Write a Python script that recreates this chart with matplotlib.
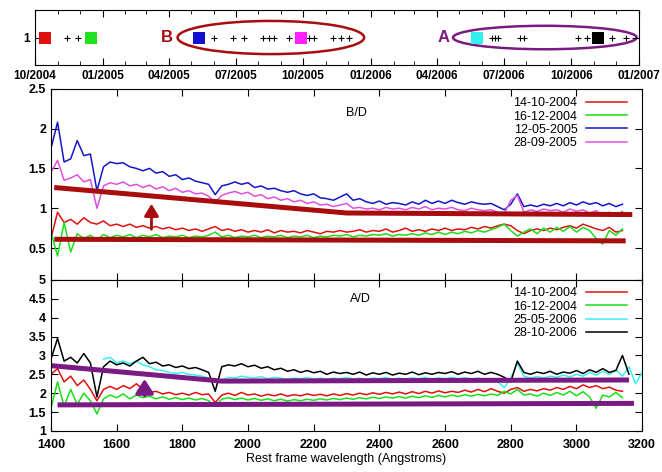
import numpy as np
import matplotlib
matplotlib.use("Agg")
import matplotlib.pyplot as plt
import matplotlib.dates as mdates
import matplotlib.ticker as mtick
from matplotlib.patches import Ellipse

nan = np.nan

# Observation epochs (top strip)
epoch_dates = ["2004-10-14", "2004-12-16", "2005-05-12", "2005-09-28", "2006-05-25", "2006-11-06"]
epoch_colors = ["#e01010", "#20e020", "#1010d0", "#ff20ff", "#30f0f0", "#000000"]
other_dates = [
    "2004-11-13", "2004-11-29",
    "2005-06-01", "2005-06-28", "2005-07-12", "2005-08-07", "2005-08-15", "2005-08-22",
    "2005-09-12", "2005-10-09", "2005-10-16", "2005-11-10", "2005-11-21", "2005-12-03",
    "2006-06-15", "2006-06-19", "2006-06-23", "2006-07-23", "2006-07-28",
    "2006-10-10", "2006-10-22", "2006-11-25", "2006-12-15",
]

# Spectra ratios, sampled every 20 A from 1400 to 3200
wave = np.arange(1400, 3201, 20)

bd_red = [0.62, 0.95, 0.82, 0.86, 0.80, 0.88, 0.82, 0.80, 0.84, 0.78,
          0.80, 0.77, 0.80, 0.76, 0.78, 0.75, 0.77, 0.74, 0.76, 0.73,
          0.75, 0.72, 0.74, 0.71, 0.74, 0.77, 0.72, 0.74, 0.71, 0.73,
          0.70, 0.72, 0.70, 0.73, 0.69, 0.72, 0.70, 0.71, 0.69, 0.72,
          0.70, 0.68, 0.71, 0.70, 0.72, 0.70, 0.71, 0.73, 0.70, 0.72,
          0.71, 0.74, 0.70, 0.72, 0.75, 0.71, 0.73, 0.71, 0.74, 0.72,
          0.75, 0.72, 0.74, 0.73, 0.76, 0.74, 0.77, 0.75, 0.78, 0.80,
          0.78, 0.72, 0.68, 0.72, 0.74, 0.72, 0.75, 0.73, 0.76, 0.78,
          0.75, 0.80, 0.77, 0.74, 0.72, 0.76, 0.70, 0.72, nan, nan, nan]
bd_green = [0.70, 0.40, 0.82, 0.45, 0.68, 0.62, 0.66, 0.60, 0.67, 0.63,
            0.66, 0.64, 0.67, 0.63, 0.66, 0.64, 0.67, 0.63, 0.65, 0.64,
            0.66, 0.63, 0.65, 0.64, 0.66, 0.70, 0.64, 0.66, 0.63, 0.65,
            0.64, 0.66, 0.63, 0.65, 0.64, 0.66, 0.63, 0.65, 0.64, 0.66,
            0.63, 0.65, 0.64, 0.66, 0.65, 0.67, 0.64, 0.66, 0.65, 0.67,
            0.66, 0.68, 0.65, 0.67, 0.66, 0.68, 0.66, 0.69, 0.67, 0.70,
            0.67, 0.70, 0.68, 0.71, 0.69, 0.72, 0.70, 0.73, 0.76, 0.80,
            0.72, 0.65, 0.70, 0.74, 0.68, 0.75, 0.70, 0.76, 0.71, 0.77,
            0.70, 0.76, 0.72, 0.62, 0.55, 0.72, 0.66, 0.74, nan, nan, nan]
bd_blue = [1.75, 2.08, 1.58, 1.62, 1.85, 1.66, 1.68, 1.22, 1.52, 1.58,
           1.56, 1.57, 1.52, 1.50, 1.47, 1.50, 1.44, 1.46, 1.40, 1.42,
           1.36, 1.38, 1.34, 1.32, 1.30, 1.17, 1.28, 1.30, 1.33, 1.30,
           1.32, 1.26, 1.28, 1.24, 1.25, 1.22, 1.20, 1.22, 1.18, 1.16,
           1.18, 1.13, 1.12, 1.10, 1.14, 1.18, 1.10, 1.12, 1.08, 1.06,
           1.09, 1.05, 1.07, 1.06, 1.04, 1.08, 1.05, 1.10, 1.06, 1.09,
           1.06, 1.10, 1.07, 1.05, 1.08, 1.06, 1.05, 1.06, 1.02, 0.98,
           1.05, 1.18, 1.02, 1.04, 1.02, 1.05, 1.03, 1.06, 1.03, 1.07,
           1.04, 1.08, 1.05, 1.07, 1.03, 1.06, 1.02, 1.05, nan, nan, nan]
bd_magenta = [1.45, 1.60, 1.35, 1.38, 1.42, 1.33, 1.36, 1.00, 1.28, 1.32,
              1.30, 1.33, 1.28, 1.30, 1.26, 1.29, 1.24, 1.27, 1.22, 1.25,
              1.20, 1.22, 1.18, 1.19, 1.15, 1.08, 1.16, 1.19, 1.21, 1.18,
              1.20, 1.15, 1.17, 1.12, 1.14, 1.10, 1.12, 1.08, 1.10, 1.06,
              1.08, 1.04, 1.05, 1.02, 1.04, 1.06, 1.00, 1.01, 0.99, 1.00,
              0.98, 1.01, 0.99, 1.00, 0.98, 1.01, 0.99, 1.02, 0.98, 1.00,
              0.99, 1.01, 0.98, 0.97, 1.00, 0.98, 0.97, 0.98, 0.95, 0.93,
              1.10, 1.16, 0.95, 0.98, 0.96, 0.99, 0.97, 0.98, 0.95, 0.99,
              0.96, 0.98, 0.94, 0.97, 0.90, 0.95, 0.92, 0.96, nan, nan, nan]

ad_red = [2.50, 2.65, 2.30, 2.45, 2.20, 2.35, 2.10, 1.80, 2.10, 2.18,
          2.10, 2.20, 2.12, 2.25, 2.10, 2.02, 2.05, 1.98, 2.02, 1.96,
          2.00, 1.95, 2.02, 1.96, 1.98, 1.75, 1.95, 2.00, 1.94, 2.02,
          1.95, 1.98, 1.92, 1.97, 1.93, 1.98, 1.92, 1.96, 1.93, 1.98,
          1.94, 1.97, 1.93, 1.98, 1.94, 1.99, 1.95, 2.00, 1.96, 2.01,
          1.97, 2.02, 1.98, 2.03, 1.98, 2.04, 1.99, 2.05, 2.00, 2.06,
          2.01, 2.05, 2.02, 2.08, 2.03, 2.10, 2.04, 2.12, 2.05, 2.00,
          2.10, 2.15, 2.05, 2.10, 2.06, 2.12, 2.08, 2.15, 2.10, 2.18,
          2.12, 2.22, 2.15, 2.20, 2.12, 2.16, 2.08, 2.05, nan, nan, nan]
ad_green = [1.60, 2.30, 1.65, 2.10, 1.70, 2.00, 1.80, 1.45, 1.85, 1.95,
            1.88, 1.98, 1.85, 1.95, 1.88, 1.92, 1.85, 1.90, 1.84, 1.88,
            1.83, 1.87, 1.82, 1.86, 1.80, 1.65, 1.84, 1.88, 1.83, 1.87,
            1.82, 1.86, 1.81, 1.85, 1.80, 1.84, 1.79, 1.83, 1.80, 1.84,
            1.81, 1.85, 1.82, 1.86, 1.83, 1.87, 1.84, 1.88, 1.85, 1.89,
            1.86, 1.90, 1.87, 1.91, 1.87, 1.92, 1.88, 1.93, 1.89, 1.94,
            1.90, 1.95, 1.91, 1.96, 1.92, 1.97, 1.93, 1.98, 1.94, 2.05,
            1.98, 2.10, 1.95, 1.98, 1.92, 2.00, 1.94, 2.02, 1.95, 2.05,
            1.93, 2.04, 1.90, 1.60, 1.95, 1.90, 2.02, 1.88, nan, nan, nan]
ad_cyan = [nan, nan, nan, nan, nan, nan, nan, nan, 2.90, 2.95,
           2.80, 2.85, 2.78, 2.85, 2.75, 2.70, 2.62, 2.60, 2.55, 2.52,
           2.55, 2.50, 2.48, 2.45, 2.40, 2.30, 2.35, 2.42, 2.40, 2.45,
           2.42, 2.40, 2.44, 2.38, 2.42, 2.40, 2.36, 2.40, 2.38, 2.42,
           2.37, 2.40, 2.36, 2.40, 2.38, 2.42, 2.37, 2.40, 2.36, 2.40,
           2.38, 2.42, 2.36, 2.40, 2.37, 2.41, 2.38, 2.42, 2.37, 2.41,
           2.38, 2.42, 2.38, 2.41, 2.37, 2.40, 2.36, 2.39, 2.30, 2.15,
           2.40, 2.80, 2.45, 2.40, 2.44, 2.40, 2.45, 2.42, 2.48, 2.43,
           2.50, 2.45, 2.55, 2.48, 2.58, 2.50, 2.62, 2.45, 2.70, 2.25, 2.55]
ad_black = [2.90, 3.45, 2.85, 2.95, 2.80, 3.05, 2.80, 1.90, 2.70, 2.85,
            2.75, 2.80, 2.72, 2.85, 2.95, 2.78, 2.82, 2.72, 2.75, 2.68,
            2.72, 2.65, 2.68, 2.62, 2.55, 2.05, 2.70, 2.75, 2.72, 2.78,
            2.70, 2.74, 2.66, 2.70, 2.62, 2.66, 2.58, 2.62, 2.55, 2.60,
            2.54, 2.58, 2.50, 2.56, 2.52, 2.55, 2.50, 2.56, 2.48, 2.54,
            2.50, 2.55, 2.48, 2.53, 2.50, 2.56, 2.49, 2.54, 2.50, 2.55,
            2.52, 2.57, 2.50, 2.56, 2.52, 2.58, 2.50, 2.55, 2.50, 2.42,
            2.30, 2.85, 2.55, 2.50, 2.56, 2.52, 2.58, 2.50, 2.56, 2.53,
            2.60, 2.52, 2.62, 2.55, 2.65, 2.55, 2.60, 3.00, 2.50, nan, nan]

# Hand-drawn envelopes (wavelength, ratio)
bd_upper_x, bd_upper_y = [1410, 2300, 3170], [1.26, 0.94, 0.92]
bd_lower_x, bd_lower_y = [1410, 3150], [0.61, 0.59]
ad_upper_x, ad_upper_y = [1400, 1920, 3160], [2.73, 2.32, 2.35]
ad_lower_x, ad_lower_y = [1420, 3175], [1.69, 1.73]

bd_labels = ["14-10-2004", "16-12-2004", "12-05-2005", "28-09-2005"]
ad_labels = ["14-10-2004", "16-12-2004", "25-05-2006", "28-10-2006"]

RED = "#e01010"
GREEN = "#18e018"
BLUE = "#1515c8"
MAGENTA = "#e050e0"
CYAN = "#38f0f0"
DARKRED = "#a80c0c"
PURPLE = "#7a1a82"

plt.rcParams["font.family"] = ["Liberation Sans", "DejaVu Sans"]
plt.rcParams["font.size"] = 9

fig = plt.figure(figsize=(6.62, 4.72), dpi=100)
ax0 = fig.add_axes([0.053, 0.862, 0.912, 0.117])
ax1 = fig.add_axes([0.077, 0.407, 0.893, 0.405])
ax2 = fig.add_axes([0.077, 0.087, 0.893, 0.320])

#
# Epoch strip
#
ed = mdates.datestr2num(epoch_dates)
od = mdates.datestr2num(other_dates)
ax0.plot(od, np.ones(len(od)), "+", color="black", ms=5, mew=0.8, zorder=3)
for d, c in zip(ed, epoch_colors):
    ax0.plot([d], [1], "s", color=c, ms=8.5, mew=0, zorder=4)

ax0.add_patch(Ellipse((mdates.datestr2num("2005-08-18"), 1.0), 254, 1.2,
                      fill=False, ec=DARKRED, lw=1.8))
ax0.add_patch(Ellipse((mdates.datestr2num("2006-08-26"), 1.0), 250, 0.85,
                      fill=False, ec=PURPLE, lw=1.8))
ax0.text(mdates.datestr2num("2005-03-30"), 1.0, "B", color=DARKRED, fontsize=12,
         fontweight="bold", ha="center", va="center")
ax0.text(mdates.datestr2num("2006-04-10"), 1.0, "A", color=PURPLE, fontsize=12,
         fontweight="bold", ha="center", va="center")

ax0.set_xlim(mdates.datestr2num("2004-10-01"), mdates.datestr2num("2007-01-01"))
ax0.set_ylim(0, 2)
ax0.set_yticks([1])
ax0.xaxis.set_major_locator(mdates.MonthLocator(bymonth=[1, 4, 7, 10]))
ax0.xaxis.set_minor_locator(mdates.MonthLocator())
ax0.xaxis.set_major_formatter(mdates.DateFormatter("%m/%Y"))
ax0.tick_params(which="both", direction="in", top=True, right=True, labelsize=8.5)
ax0.tick_params(which="major", length=5)
ax0.tick_params(which="minor", length=3)
for lab in ax0.get_xticklabels() + ax0.get_yticklabels():
    lab.set_fontweight("bold")

#
# B/D panel
#
for y, c, lab in zip([bd_red, bd_green, bd_blue, bd_magenta],
                     [RED, GREEN, BLUE, MAGENTA], bd_labels):
    ax1.plot(wave, y, color=c, lw=1.1, label=lab)
ax1.plot(bd_upper_x, bd_upper_y, color=DARKRED, lw=3.6, solid_capstyle="butt")
ax1.plot(bd_lower_x, bd_lower_y, color=DARKRED, lw=3.6, solid_capstyle="butt")
ax1.annotate("", xy=(1706, 1.09), xytext=(1706, 0.70),
             arrowprops=dict(arrowstyle="-|>,head_length=0.6,head_width=0.36",
                             mutation_scale=12, lw=2, color=DARKRED))
ax1.text(2330, 2.2, "B/D", fontsize=9, ha="center", va="center")
ax1.set_xlim(1400, 3200)
ax1.set_ylim(0.1, 2.5)
ax1.set_yticks([0.5, 1, 1.5, 2, 2.5])
ax1.xaxis.set_major_locator(mtick.MultipleLocator(200))
ax1.yaxis.set_major_formatter(mtick.FormatStrFormatter("%g"))
ax1.tick_params(direction="in", top=True, right=True, length=5, labelbottom=False)
ax1.legend(loc="upper right", bbox_to_anchor=(0.975, 0.955), frameon=False,
           markerfirst=False, handlelength=3.3, handletextpad=0.7,
           labelspacing=0.1, borderpad=0, borderaxespad=0, fontsize=9)

#
# A/D panel
#
for y, c, lab in zip([ad_red, ad_green, ad_cyan, ad_black],
                     [RED, GREEN, CYAN, "black"], ad_labels):
    ax2.plot(wave, y, color=c, lw=1.1, label=lab)
ax2.plot(ad_upper_x, ad_upper_y, color=PURPLE, lw=3.6, solid_capstyle="butt")
ax2.plot(ad_lower_x, ad_lower_y, color=PURPLE, lw=3.6, solid_capstyle="butt")
ax2.annotate("", xy=(1685, 2.45), xytext=(1685, 1.87),
             arrowprops=dict(arrowstyle="-|>,head_length=0.7,head_width=0.45",
                             mutation_scale=12, lw=2.6, color=PURPLE))
ax2.text(2342, 4.5, "A/D", fontsize=9, ha="center", va="center")
ax2.set_xlim(1400, 3200)
ax2.set_ylim(1, 5)
ax2.set_yticks(np.arange(1, 5.01, 0.5))
ax2.xaxis.set_major_locator(mtick.MultipleLocator(200))
ax2.yaxis.set_major_formatter(mtick.FormatStrFormatter("%g"))
ax2.tick_params(direction="in", top=True, right=True, length=5)
ax2.tick_params(axis="x", pad=6)
ax2.legend(loc="upper right", bbox_to_anchor=(0.975, 0.95), frameon=False,
           markerfirst=False, handlelength=3.3, handletextpad=0.7,
           labelspacing=0.1, borderpad=0, borderaxespad=0, fontsize=9)
ax2.set_xlabel("Rest frame wavelength (Angstroms)", fontsize=9, labelpad=1)

for ax in (ax1, ax2):
    for lab in ax.get_xticklabels() + ax.get_yticklabels():
        lab.set_fontweight("bold")

fig.savefig("out.png", dpi=100)
